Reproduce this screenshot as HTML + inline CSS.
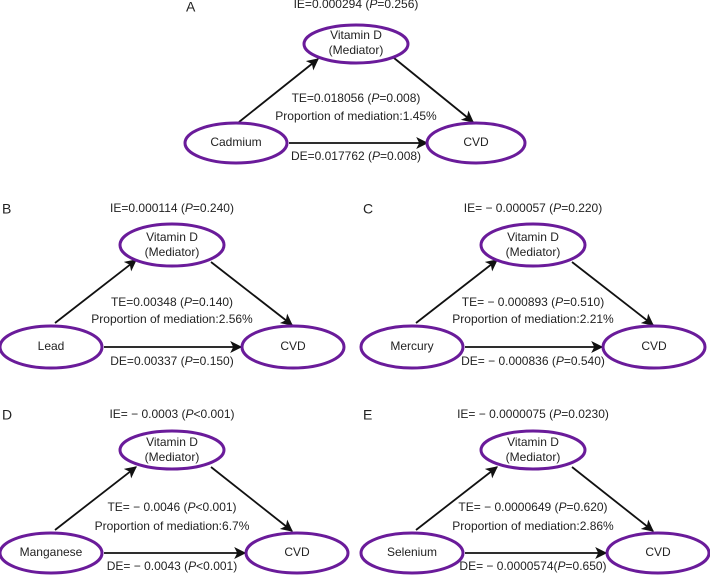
<!DOCTYPE html>
<html><head><meta charset="utf-8"><style>
html,body{margin:0;padding:0;background:#fff}
svg{display:block}
text{font-family:"Liberation Sans",Arial,sans-serif;font-size:12px;fill:#222;text-anchor:middle;dominant-baseline:middle}
.l{font-size:14px;text-anchor:start}
ellipse{fill:#fff;stroke:#6a1b9a;stroke-width:3}
line{stroke:#111;stroke-width:1.8}
</style></head><body>
<svg width="710" height="576" viewBox="0 0 710 576">
<defs><marker id="a" viewBox="0 0 10 10" refX="9" refY="5" markerWidth="12" markerHeight="12" orient="auto" markerUnits="userSpaceOnUse"><path d="M0,0 L10,5 L0,10 L2.5,5 z" fill="#111"/></marker></defs>

<!-- A -->
<g>
<text class="l" x="186" y="8">A</text>
<text x="356" y="5">IE=0.000294 (<tspan font-style="italic">P</tspan>=0.256)</text>
<line x1="239" y1="122" x2="318" y2="59" marker-end="url(#a)"/>
<line x1="394" y1="58" x2="473" y2="122" marker-end="url(#a)"/>
<line x1="289" y1="143" x2="427" y2="143" marker-end="url(#a)"/>
<ellipse cx="356" cy="44" rx="52" ry="19"/>
<text x="356" y="36">Vitamin D</text><text x="356" y="51">(Mediator)</text>
<ellipse cx="236" cy="143" rx="51" ry="20"/><text x="236" y="143">Cadmium</text>
<ellipse cx="476" cy="143" rx="49" ry="20"/><text x="476" y="143">CVD</text>
<text x="356" y="99">TE=0.018056 (<tspan font-style="italic">P</tspan>=0.008)</text>
<text x="356" y="117">Proportion of mediation:1.45%</text>
<text x="356" y="157">DE=0.017762 (<tspan font-style="italic">P</tspan>=0.008)</text>
</g>

<!-- B -->
<g>
<text class="l" x="2" y="210">B</text>
<text x="172" y="209">IE=0.000114 (<tspan font-style="italic">P</tspan>=0.240)</text>
<line x1="55" y1="323" x2="136" y2="260" marker-end="url(#a)"/>
<line x1="211" y1="262" x2="292" y2="325" marker-end="url(#a)"/>
<line x1="104" y1="347" x2="241" y2="347" marker-end="url(#a)"/>
<ellipse cx="172" cy="245" rx="52" ry="21"/>
<text x="172" y="238">Vitamin D</text><text x="172" y="253">(Mediator)</text>
<ellipse cx="51" cy="347" rx="51" ry="21"/><text x="51" y="347">Lead</text>
<ellipse cx="293" cy="347" rx="51" ry="21"/><text x="293" y="347">CVD</text>
<text x="172" y="303">TE=0.00348 (<tspan font-style="italic">P</tspan>=0.140)</text>
<text x="172" y="320">Proportion of mediation:2.56%</text>
<text x="172" y="362">DE=0.00337 (<tspan font-style="italic">P</tspan>=0.150)</text>
</g>

<!-- C -->
<g>
<text class="l" x="363" y="210">C</text>
<text x="533" y="209">IE= − 0.000057 (<tspan font-style="italic">P</tspan>=0.220)</text>
<line x1="416" y1="323" x2="497" y2="260" marker-end="url(#a)"/>
<line x1="572" y1="262" x2="653" y2="325" marker-end="url(#a)"/>
<line x1="465" y1="347" x2="602" y2="347" marker-end="url(#a)"/>
<ellipse cx="533" cy="245" rx="52" ry="21"/>
<text x="533" y="238">Vitamin D</text><text x="533" y="253">(Mediator)</text>
<ellipse cx="412" cy="347" rx="51" ry="21"/><text x="412" y="347">Mercury</text>
<ellipse cx="654" cy="347" rx="51" ry="21"/><text x="654" y="347">CVD</text>
<text x="533" y="303">TE= − 0.000893 (<tspan font-style="italic">P</tspan>=0.510)</text>
<text x="533" y="320">Proportion of mediation:2.21%</text>
<text x="533" y="362">DE= − 0.000836 (<tspan font-style="italic">P</tspan>=0.540)</text>
</g>

<!-- D -->
<g>
<text class="l" x="2" y="416">D</text>
<text x="172" y="415">IE= − 0.0003 (<tspan font-style="italic">P</tspan>&lt;0.001)</text>
<line x1="55" y1="530" x2="136" y2="467" marker-end="url(#a)"/>
<line x1="211" y1="467" x2="292" y2="531" marker-end="url(#a)"/>
<line x1="104" y1="553" x2="245" y2="553" marker-end="url(#a)"/>
<ellipse cx="172" cy="450" rx="52" ry="19"/>
<text x="172" y="443">Vitamin D</text><text x="172" y="458">(Mediator)</text>
<ellipse cx="51" cy="553" rx="51" ry="20"/><text x="51" y="553">Manganese</text>
<ellipse cx="297" cy="553" rx="51" ry="20"/><text x="297" y="553">CVD</text>
<text x="172" y="508">TE= − 0.0046 (<tspan font-style="italic">P</tspan>&lt;0.001)</text>
<text x="172" y="527">Proportion of mediation:6.7%</text>
<text x="172" y="567">DE= − 0.0043 (<tspan font-style="italic">P</tspan>&lt;0.001)</text>
</g>

<!-- E -->
<g>
<text class="l" x="363" y="416">E</text>
<text x="533" y="415">IE= − 0.0000075 (<tspan font-style="italic">P</tspan>=0.0230)</text>
<line x1="416" y1="530" x2="497" y2="467" marker-end="url(#a)"/>
<line x1="572" y1="467" x2="653" y2="531" marker-end="url(#a)"/>
<line x1="465" y1="553" x2="606" y2="553" marker-end="url(#a)"/>
<ellipse cx="533" cy="450" rx="52" ry="19"/>
<text x="533" y="443">Vitamin D</text><text x="533" y="458">(Mediator)</text>
<ellipse cx="412" cy="553" rx="51" ry="20"/><text x="412" y="553">Selenium</text>
<ellipse cx="658" cy="553" rx="51" ry="20"/><text x="658" y="553">CVD</text>
<text x="533" y="508">TE= − 0.0000649 (<tspan font-style="italic">P</tspan>=0.620)</text>
<text x="533" y="527">Proportion of mediation:2.86%</text>
<text x="533" y="567">DE= − 0.0000574(<tspan font-style="italic">P</tspan>=0.650)</text>
</g>
</svg>
</body></html>
